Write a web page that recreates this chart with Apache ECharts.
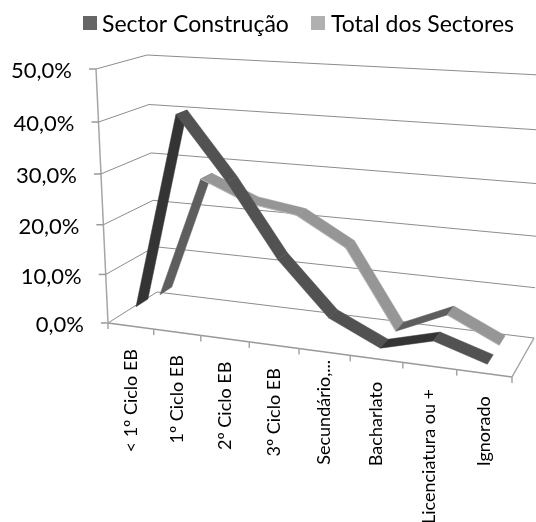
<!DOCTYPE html>
<html>
<head>
<meta charset="utf-8">
<style>html,body{margin:0;padding:0;background:#fff}#chart{width:536px;height:522px}</style>
<script src="https://cdn.jsdelivr.net/npm/echarts@6/dist/echarts.min.js"></script>
</head>
<body>
<div id="chart"></div>
<script>
var categories = ['< 1º Ciclo EB', '1º Ciclo EB', '2º Ciclo EB', '3º Ciclo EB', 'Secundário,...', 'Bacharlato', 'Licenciatura ou +', 'Ignorado'];
var sectorConstrucao = [3.2, 42, 30, 16, 5.8, 1.2, 3.9, 0.8];
var totalSectores = [2.5, 27.5, 23.5, 22, 16.5, 1, 5.5, 0.8];
var valueTicks = [0, 10, 20, 30, 40, 50];
var tickLabels = ['0,0%', '10,0%', '20,0%', '30,0%', '40,0%', '50,0%'];

// corners of the 3D box as Excel drew it: [x, y] in pixels
var floorFL = [108, 323], floorFR = [512, 377], floorBL = [157, 292], floorBR = [534, 338];
var topFL = [96, 69], topFR = [522, 95], topBL = [147, 55], topBR = [540, 75];

var W = 536, H = 522;
var font = 'Lato, "Noto Sans", sans-serif';
var lineColor = '#8c8c8c';

function mix(a, b, t) {
    return [a[0] + (b[0] - a[0]) * t, a[1] + (b[1] - a[1]) * t];
}
// u, v, d all 0..1 (along categories, up the values, into the depth)
function box(u, v, d) {
    var uu = u * (0.892 + 0.108 * u);   // perspective squeeze
    var vv = v * (0.945 + 0.055 * v);
    var floor = mix(mix(floorFL, floorFR, uu), mix(floorBL, floorBR, uu), d);
    var roof = mix(mix(topFL, topFR, uu), mix(topBL, topBR, uu), d);
    return mix(floor, roof, vv);
}
// goes through the cartesian axes first, then into the box
function project(api, i, value, d, edge) {
    var p = api.coord([i, value]);
    var band = api.size([1, 0])[0];
    return box((p[0] + (edge || 0) * band) / W, 1 - p[1] / H, d);
}
function line(a, b, width, color) {
    return {
        type: 'line',
        shape: {x1: a[0], y1: a[1], x2: b[0], y2: b[1]},
        style: {stroke: color || lineColor, lineWidth: width || 1}
    };
}

function renderFrame(params, api) {
    var v = api.value(1);
    var front = project(api, 0, v, 0, -0.5);
    var back = project(api, 0, v, 1, -0.5);
    var right = project(api, categories.length - 1, v, 1, 0.5);
    var kids = [
        line([front[0] - 7, front[1]], front, 1.5, '#9a9a9a'),
        line(front, back),
        line(back, right)
    ];
    if (v === 0) {
        var fr = project(api, categories.length - 1, 0, 0, 0.5);
        kids.push(line(front, fr, 1.5, '#999'));
        kids.push(line(fr, right, 1.5, '#a5a5a5'));
        kids.push(line(front, project(api, 0, 50, 0, -0.5), 1.5, '#a5a5a5'));
        for (var i = 0; i <= categories.length; i++) {
            var t = project(api, Math.min(i, categories.length - 1), 0, 0, i === categories.length ? 0.5 : -0.5);
            kids.push(line(t, [t[0], t[1] + 6], 1.5, '#a5a5a5'));
        }
    }
    return {type: 'group', children: kids};
}

function renderValueLabel(params, api) {
    var p = project(api, 0, api.value(1), 0, -0.5);
    return {
        type: 'text',
        style: {
            text: tickLabels[params.dataIndex], x: p[0] - 24, y: p[1] + 2,
            align: 'right', verticalAlign: 'middle', font: '22px ' + font, fill: '#000'
        }
    };
}

function renderCatLabel(params, api) {
    var i = api.value(0);
    var p = project(api, i, 0, 0, 0);
    // the truncated label sits higher, as in the original
    var nudge = categories[i].indexOf('...') > -1 ? -15 : 0;
    return {
        type: 'text',
        x: p[0],
        y: p[1] + 23 + nudge,
        rotation: Math.PI / 2,
        style: {
            text: categories[i], x: 0, y: 0,
            align: 'right', verticalAlign: 'middle', font: '18px ' + font, fill: '#000'
        }
    };
}

function ribbon(values, depth, upColor, downColor, edgeColor) {
    var w = 0.125;
    return function (params, api) {
        var i = api.value(0);
        if (i >= values.length - 1) return null;
        var v0 = values[i], v1 = values[i + 1];
        var a = project(api, i, v0, depth - w);
        var b = project(api, i + 1, v1, depth - w);
        var c = project(api, i + 1, v1, depth + w);
        var d = project(api, i, v0, depth + w);
        var kids = [{
            type: 'polygon',
            shape: {points: [a, b, c, d]},
            style: {fill: v1 > v0 ? upColor : downColor, stroke: v1 > v0 ? upColor : downColor, lineWidth: 0.5}
        }];
        if (edgeColor && v1 <= v0) kids.push(line(a, b, 1, edgeColor));
        return {type: 'group', children: kids};
    };
}

var chart = echarts.init(document.getElementById('chart'));
chart.setOption({
    animation: false,
    backgroundColor: '#fff',
    legend: {
        data: ['Sector Construção', 'Total dos Sectores'],
        left: 78,
        top: 8,
        icon: 'rect',
        itemWidth: 14,
        itemHeight: 14,
        itemGap: 23,
        itemStyle: {opacity: 0},
        textStyle: {fontFamily: font, fontSize: 23, color: '#000'}
    },
    // legend squares
    graphic: [
        {type: 'rect', shape: {x: 83, y: 16, width: 14, height: 14}, style: {fill: '#666666'}, silent: true},
        {type: 'rect', shape: {x: 311, y: 16, width: 14, height: 14}, style: {fill: '#b0b0b0'}, silent: true}
    ],
    grid: {left: 0, right: 0, top: 0, bottom: 0},
    xAxis: {type: 'category', data: categories, show: false},
    yAxis: {type: 'value', min: 0, max: 50, interval: 10, show: false},
    series: [
        {
            type: 'custom', silent: true, z: 1,
            data: valueTicks.map(function (t) { return [0, t]; }),
            renderItem: renderFrame
        },
        {
            type: 'custom', silent: true, z: 1,
            data: valueTicks.map(function (t) { return [0, t]; }),
            renderItem: renderValueLabel
        },
        {
            type: 'custom', silent: true, z: 1,
            data: categories.map(function (c, i) { return [i, 0]; }),
            renderItem: renderCatLabel
        },
        {
            name: 'Total dos Sectores', type: 'custom', silent: true, z: 2,
            itemStyle: {color: '#b0b0b0'},
            data: totalSectores.map(function (v, i) { return [i, v]; }),
            renderItem: ribbon(totalSectores, 0.75, '#5e5e5e', '#969696', '#b8b8b8')
        },
        {
            name: 'Sector Construção', type: 'custom', silent: true, z: 3,
            itemStyle: {color: '#666666'},
            data: sectorConstrucao.map(function (v, i) { return [i, v]; }),
            renderItem: ribbon(sectorConstrucao, 0.25, '#343434', '#525252')
        }
    ]
});
</script>
</body>
</html>
